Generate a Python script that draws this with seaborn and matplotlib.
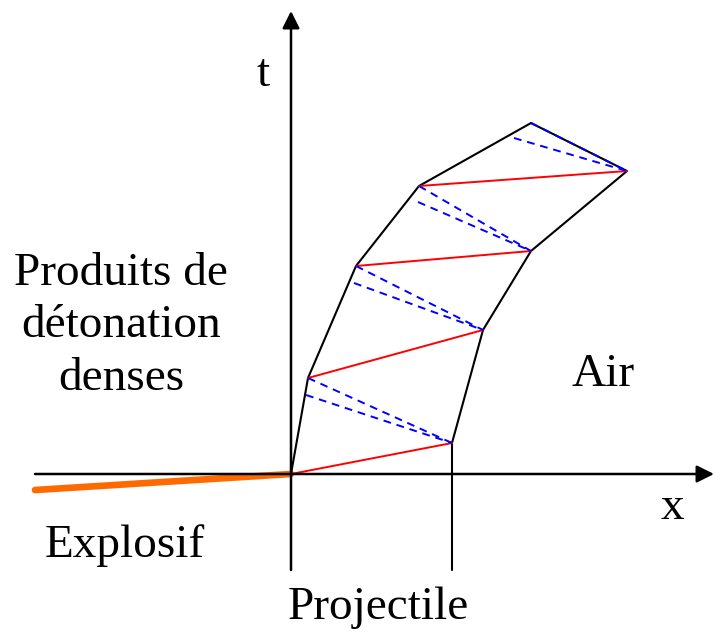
import numpy as np
import pandas as pd
import seaborn as sns
import matplotlib.pyplot as plt

# x-t diagram, units relative to the origin (x to the right, t upwards)
left_x = [0, 17, 65, 128, 240]       # projectile rear face
left_t = [0, 96, 208, 288, 351]
right_x = [161, 161, 192, 240, 336, 240]   # projectile front face
right_t = [-96, 31, 144, 223, 303, 351]

# red waves: rear face -> front face
red_from = [(0, 0), (17, 96), (65, 208), (128, 288)]
red_to = [(161, 31), (192, 144), (240, 223), (336, 303)]

# blue dashed pairs: rear face -> front face (reflected)
blue_from = [(17, 96), (65, 208), (128, 288), (240, 351)]
blue_from2 = [(15, 79), (63, 191), (127, 272), (223, 336)]
blue_to = [(161, 31), (192, 144), (240, 223), (336, 303)]

explosif_x = [-256, 0]
explosif_t = [-16, 0]

sns.set_theme(style="white")
plt.rcParams['font.family'] = ['Liberation Serif', 'DejaVu Serif']

fig = plt.figure(figsize=(7.14, 6.33), dpi=100)
ax = fig.add_axes([0, 0, 1, 1])
ax.set_xlim(-291, 423)
ax.set_ylim(-159, 474)
ax.axis('off')

# axes arrows
ax.annotate('', xy=(0, 463), xytext=(0, -96),
            arrowprops=dict(arrowstyle='-|>', color='black', lw=1.8, mutation_scale=26,
                            shrinkA=0, shrinkB=0))
ax.annotate('', xy=(423, 0), xytext=(-256, 0),
            arrowprops=dict(arrowstyle='-|>', color='black', lw=1.8, mutation_scale=26,
                            shrinkA=0, shrinkB=0))

# explosive
sns.lineplot(x=explosif_x, y=explosif_t, ax=ax, color='#ff6a00', lw=4.8,
             sort=False, estimator=None)

# projectile boundaries
sns.lineplot(x=left_x, y=left_t, ax=ax, color='black', lw=1.5, sort=False, estimator=None)
sns.lineplot(x=right_x, y=right_t, ax=ax, color='black', lw=1.5, sort=False, estimator=None)

for (x0, t0), (x1, t1) in zip(red_from, red_to):
    ax.plot([x0, x1], [t0, t1], color='red', lw=1.4)
for (x0, t0), (x2, t2), (x1, t1) in zip(blue_from, blue_from2, blue_to):
    ax.plot([x0, x1], [t0, t1], color='blue', lw=1.4, ls=(0, (4, 3)))
    ax.plot([x2, x1], [t2, t1], color='blue', lw=1.4, ls=(0, (4, 3)))

fs = 34
tc = 'black'
ax.text(-28, 399, 't', fontsize=fs, ha='center', va='center', color=tc)
ax.text(381, -34, 'x', fontsize=fs, ha='center', va='center', color=tc)
ax.text(-170, 148, 'Produits de\ndétonation\ndenses', fontsize=fs, ha='center',
        va='center', linespacing=1.3, color=tc)
ax.text(312, 99, 'Air', fontsize=fs, ha='center', va='center', color=tc)
ax.text(-166, -72, 'Explosif', fontsize=fs, ha='center', va='center', color=tc)
ax.text(87, -134, 'Projectile', fontsize=fs, ha='center', va='center', color=tc)

fig.savefig('out.png', dpi=100)
